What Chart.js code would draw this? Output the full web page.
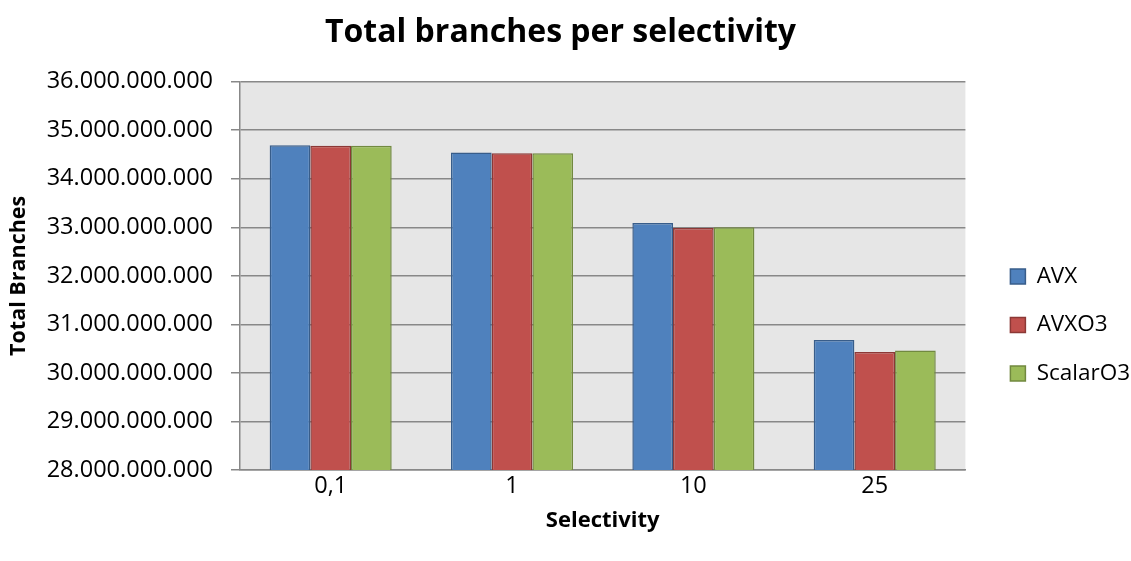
<!DOCTYPE html>
<html>
<head>
<meta charset="utf-8">
<script src="https://cdn.jsdelivr.net/npm/chart.js@4.4.1/dist/chart.umd.min.js"></script>
<style>
  html, body { margin: 0; padding: 0; background: #ffffff; }
  #wrap { width: 1131px; height: 561px; }
</style>
</head>
<body>
<div id="wrap"><canvas id="chart" width="1131" height="561"></canvas></div>
<script>
// Total branch counts per selectivity level
const categories = ['0,1', '1', '10', '25'];
const avx      = [34690000000, 34540000000, 33090000000, 30680000000];
const avxO3    = [34680000000, 34525000000, 32985000000, 30430000000];
const scalarO3 = [34680000000, 34525000000, 33000000000, 30460000000];

// Value axis range and its labels (dot as thousands separator)
const yMin = 28000000000;
const yMax = 36000000000;
const yStep = 1000000000;
const yTickLabels = [
  '28.000.000.000', '29.000.000.000', '30.000.000.000', '31.000.000.000',
  '32.000.000.000', '33.000.000.000', '34.000.000.000', '35.000.000.000',
  '36.000.000.000'
];

const FONT = "'Open Sans', 'Liberation Sans', sans-serif";
const GRID = '#888888';

// Grey fill behind the plot area
const plotBackground = {
  id: 'plotBackground',
  beforeDraw(chart) {
    const { ctx, chartArea: a } = chart;
    ctx.save();
    ctx.fillStyle = '#e6e6e6';
    ctx.fillRect(a.left, a.top, a.right - a.left, a.bottom - a.top);
    ctx.restore();
  }
};

// Keep a gap between the plot and the legend, and sit the legend a little low
const legendPlacement = {
  id: 'legendPlacement',
  afterLayout(chart) {
    const lg = chart.legend;
    if (!lg) return;
    const dx = chart.chartArea.right + 19 - lg.left;
    lg.left += dx; lg.right += dx;
    lg.top += 44.5; lg.bottom += 44.5;
  }
};

new Chart(document.getElementById('chart'), {
  type: 'bar',
  data: {
    labels: categories,
    datasets: [
      { label: 'AVX', data: avx, backgroundColor: '#4f81bd', borderColor: '#385d8a', borderWidth: 1.5 },
      { label: 'AVXO3', data: avxO3, backgroundColor: '#c0504d', borderColor: '#8c3836', borderWidth: 1.5 },
      { label: 'ScalarO3', data: scalarO3, backgroundColor: '#9bbb59', borderColor: '#71893f', borderWidth: 1.5 }
    ]
  },
  options: {
    responsive: false,
    animation: false,
    layout: { padding: { left: 0, right: 10, top: 0, bottom: 0 } },
    datasets: {
      bar: { categoryPercentage: 0.673, barPercentage: 1.0, borderSkipped: 'start' }
    },
    plugins: {
      title: {
        display: true,
        text: 'Total branches per selectivity',
        color: '#000000',
        font: { family: FONT, size: 32, weight: 'bold', lineHeight: 1.2 },
        padding: { top: 13.8, bottom: 29.5 }
      },
      legend: {
        display: true,
        position: 'right',
        align: 'center',
        labels: {
          color: '#000000',
          font: { family: FONT, size: 22.5 },
          boxWidth: 15,
          boxHeight: 15,
          padding: 26
        }
      },
      tooltip: { enabled: false }
    },
    scales: {
      x: {
        grid: { display: false, drawTicks: false },
        border: { display: true, color: GRID, width: 1.5 },
        ticks: { color: '#000000', font: { family: FONT, size: 23.5 }, padding: 2 },
        title: {
          display: true,
          text: 'Selectivity',
          color: '#000000',
          font: { family: FONT, size: 22, weight: 'bold', lineHeight: 1.2 },
          padding: { top: 6, bottom: 27 }
        },
        afterFit(scale) { scale.height = 91; }
      },
      y: {
        min: yMin,
        max: yMax,
        grid: { color: GRID, lineWidth: 1.5, tickLength: 9, drawTicks: true },
        border: { display: true, color: GRID, width: 1.5 },
        ticks: {
          stepSize: yStep,
          color: '#000000',
          font: { family: FONT, size: 23.5 },
          padding: 18,
          callback(value) {
            const i = Math.round((value - yMin) / yStep);
            return yTickLabels[i];
          }
        },
        title: {
          display: true,
          text: 'Total Branches',
          color: '#000000',
          font: { family: FONT, size: 21.5, weight: 'bold', lineHeight: 1.2 },
          padding: { top: 6, bottom: 0 }
        },
        afterFit(scale) { scale.width = 240; }
      }
    }
  },
  plugins: [plotBackground, legendPlacement]
});
</script>
</body>
</html>
